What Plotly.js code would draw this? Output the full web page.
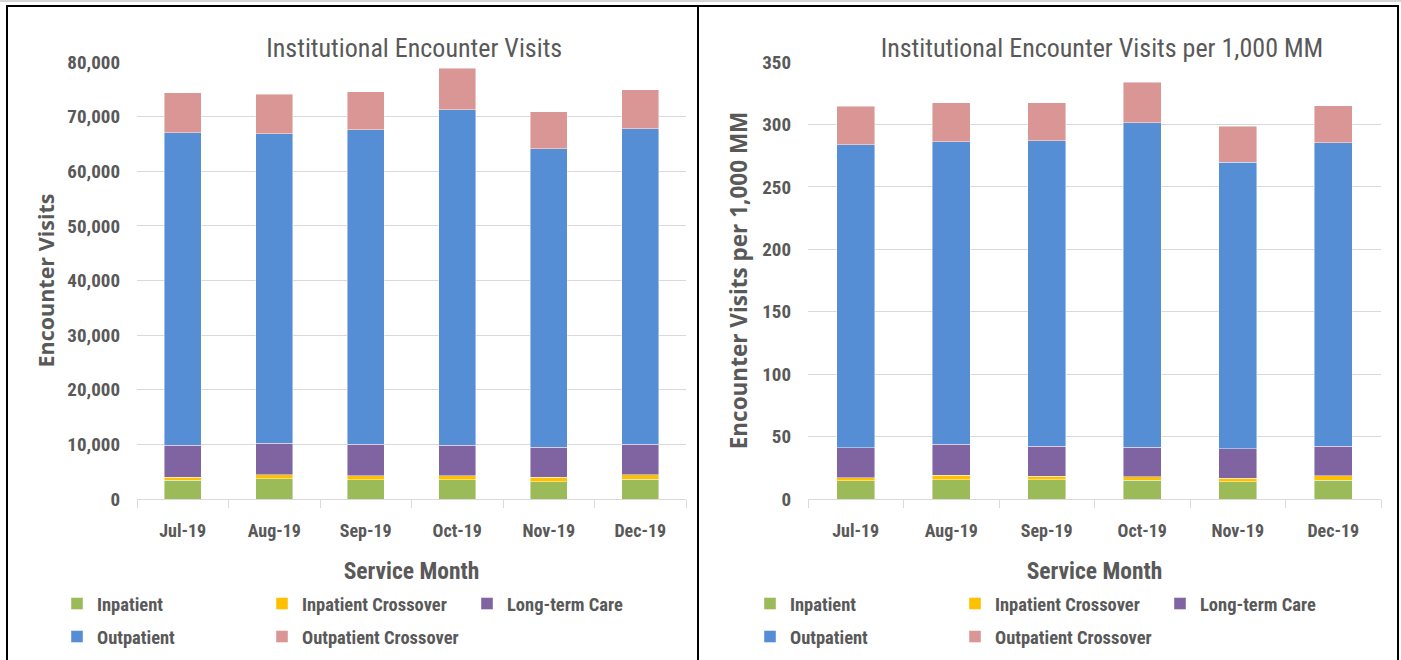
<!DOCTYPE html>
<html>
<head>
<meta charset="utf-8">
<script src="https://cdn.plot.ly/plotly-3.0.1.min.js"></script>
<style>
  html, body { margin: 0; padding: 0; background: #fff; overflow: hidden; }
  #wrap { position: relative; width: 1401px; height: 660px; }
  #topline { position: absolute; left: 0; top: 0; width: 1401px; height: 2px; background: #d4d4d4; }
  .panel { position: absolute; top: 0; height: 660px; }
  #chartLeft { left: 0; width: 699px; }
  #chartRight { left: 699px; width: 702px; }
  .box { position: absolute; border: 2px solid #000; pointer-events: none; box-sizing: border-box; }
  #boxLeft { left: 6px; top: 5px; width: 693px; height: 720px; }
  #boxRight { left: 697px; top: 5px; width: 702px; height: 720px; }
</style>
</head>
<body>
<div id="wrap">
  <div id="topline"></div>
  <div id="chartLeft" class="panel"></div>
  <div id="chartRight" class="panel"></div>
  <div id="boxLeft" class="box"></div>
  <div id="boxRight" class="box"></div>
</div>
<script>
// ---- data ----
const months = ['Jul-19', 'Aug-19', 'Sep-19', 'Oct-19', 'Nov-19', 'Dec-19'];
const seriesNames = ['Inpatient', 'Inpatient Crossover', 'Long-term Care', 'Outpatient', 'Outpatient Crossover'];

// Institutional Encounter Visits
const visitsInpatient = [3450, 3700, 3500, 3500, 3200, 3600];
const visitsInpatientCrossover = [550, 750, 750, 750, 750, 800];
const visitsLongTermCare = [5880, 5800, 5750, 5560, 5550, 5600];
const visitsOutpatient = [57190, 56580, 57560, 61470, 54650, 57800];
const visitsOutpatientCrossover = [7260, 7250, 6950, 7620, 6700, 7080];

// Institutional Encounter Visits per 1,000 MM
const rateInpatient = [14.5, 15.6, 15.3, 15.1, 13.7, 15.1];
const rateInpatientCrossover = [2.7, 3.5, 3.0, 2.6, 3.0, 3.7];
const rateLongTermCare = [23.9, 24.7, 23.9, 23.7, 23.6, 23.4];
const rateOutpatient = [242.5, 242.2, 244.9, 259.9, 229.6, 243.0];
const rateOutpatientCrossover = [30.9, 31.2, 30.1, 32.3, 28.8, 29.9];

// ---- styles ----
const seriesColors = ['#9BBB59', '#FFC000', '#8064A2', '#558ED5', '#D99694'];
const legendRowOf = ['legend', 'legend', 'legend', 'legend2', 'legend2'];
const FONT = '"Liberation Sans Narrow", "Arial Narrow", "Roboto Condensed", "Liberation Sans", sans-serif';
const WIDEFONT = '"Open Sans", "DejaVu Sans", sans-serif';
const GREY = '#595959';
const GRID = '#d9d9d9';
const PLOT_TOP = 62, PLOT_BOTTOM = 499;
const PLOT_H = PLOT_BOTTOM - PLOT_TOP;

function makeTraces(valueLists) {
  return valueLists.map((vals, i) => ({
    type: 'bar',
    name: seriesNames[i],
    legend: legendRowOf[i],
    x: months,
    y: vals,
    marker: { color: seriesColors[i], line: { color: 'rgba(255,255,255,0.55)', width: 0.8 } },
    hoverinfo: 'x+y+name'
  }));
}

function legendRow(xPaper, yCenterPx) {
  return {
    orientation: 'h',
    traceorder: 'normal',
    xref: 'paper', yref: 'paper',
    x: xPaper, xanchor: 'left',
    y: -(yCenterPx - PLOT_BOTTOM) / PLOT_H, yanchor: 'middle',
    entrywidth: 160, entrywidthmode: 'pixels',
    font: { family: FONT, size: 18.5, color: GREY, weight: 'bold' },
    bgcolor: 'rgba(0,0,0,0)',
    borderwidth: 0
  };
}

function makeLayout(opts) {
  const plotW = opts.width - opts.ml - opts.mr;
  const lx = (opts.legendLeftPx - opts.ml) / plotW;
  return {
    width: opts.width,
    height: 660,
    paper_bgcolor: 'rgba(0,0,0,0)',
    plot_bgcolor: 'rgba(0,0,0,0)',
    margin: { l: opts.ml, r: opts.mr, t: PLOT_TOP, b: 660 - PLOT_BOTTOM, pad: 0, autoexpand: false },
    barmode: 'stack',
    bargap: 0.6,
    font: { family: FONT, color: GREY },
    title: {
      text: opts.title,
      font: { family: FONT, size: 26, color: GREY },
      xref: 'paper', x: opts.titleX, xanchor: 'center',
      yref: 'container', y: 1 - 48 / 660, yanchor: 'middle'
    },
    xaxis: {
      type: 'category',
      tickson: 'boundaries',
      ticks: 'outside', ticklen: 8, tickcolor: GRID, tickwidth: 1,
      tickangle: 0,
      showgrid: false,
      showline: true, linecolor: GRID, linewidth: 1,
      tickfont: { family: FONT, size: 18, color: GREY, weight: 'bold' },
      ticklabelstandoff: 15,
      title: { text: 'Service Month', font: { family: FONT, size: 23.5, color: GREY, weight: 'bold' }, standoff: 22 },
      fixedrange: true
    },
    yaxis: {
      range: opts.yrange,
      dtick: opts.dtick,
      tickformat: opts.tickformat,
      showgrid: true, gridcolor: GRID, gridwidth: 1,
      zeroline: false,
      showline: false,
      ticks: '',
      tickfont: { family: FONT, size: 19, color: GREY, weight: 'bold' },
      ticklabelstandoff: opts.yStandoff,
      title: { text: opts.yTitle, font: { family: WIDEFONT, size: opts.yTitleSize, color: GREY, weight: 'bold' }, standoff: opts.yTitleStandoff },
      fixedrange: true
    },
    showlegend: true,
    legend: legendRow(lx, 604),
    legend2: legendRow(lx, 637)
  };
}

const leftTraces = makeTraces([visitsInpatient, visitsInpatientCrossover, visitsLongTermCare, visitsOutpatient, visitsOutpatientCrossover]);
const rightTraces = makeTraces([rateInpatient, rateInpatientCrossover, rateLongTermCare, rateOutpatient, rateOutpatientCrossover]);

Plotly.newPlot('chartLeft', leftTraces, makeLayout({
  width: 699, ml: 137, mr: 13,
  title: 'Institutional Encounter Visits', titleX: 0.505,
  yrange: [0, 80000], dtick: 10000, tickformat: ',',
  yTitle: 'Encounter Visits', yTitleSize: 21.5, yStandoff: 16, yTitleStandoff: 6,
  legendLeftPx: 57
}), { displayModeBar: false, staticPlot: true });

Plotly.newPlot('chartRight', rightTraces, makeLayout({
  width: 702, ml: 109, mr: 20,
  title: 'Institutional Encounter Visits per 1,000 MM', titleX: 0.513,
  yrange: [0, 350], dtick: 50, tickformat: '',
  yTitle: 'Encounter Visits per 1,000 MM', yTitleSize: 22.5, yStandoff: 16, yTitleStandoff: 8,
  legendLeftPx: 750 - 699
}), { displayModeBar: false, staticPlot: true });
</script>
</body>
</html>
